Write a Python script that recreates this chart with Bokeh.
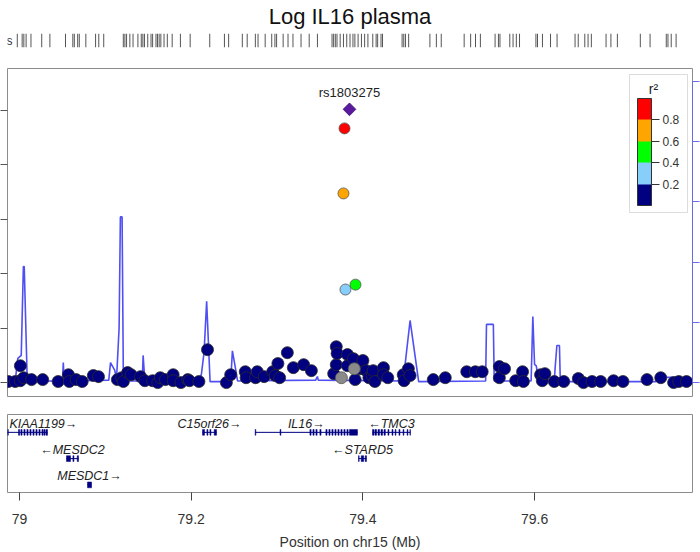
from bokeh.plotting import figure
from bokeh.layouts import column
from bokeh.models import (Range1d, LinearAxis, FixedTicker, ColumnDataSource, ColorBar,
                          LinearColorMapper, NumeralTickFormatter, Label, BoxAnnotation)
from bokeh.transform import linear_cmap
from bokeh.core.properties import value
from bokeh.embed import file_html
from bokeh.resources import INLINE

# ---------------- data ----------------
TITLE = "Log IL16 plasma"
X_LABEL = "Position on chr15 (Mb)"
X_TICKS = [79.0, 79.2, 79.4, 79.6]
LOGP_TICKS = [0, 2, 4, 6, 8, 10]
RECOMB_TICKS = [0, 20, 40, 60, 80, 100]
R2_TICKS = [0.2, 0.4, 0.6, 0.8]
R2_PALETTE = ["#000080", "#87CEFA", "#00FF00", "#FFA500", "#FF0000"]

# SNPs with r2 < 0.2 (navy)
low_pos = [78.987, 78.995, 79.001, 79.001, 79.005, 79.014, 79.027, 79.045, 79.057, 79.058,
           79.066, 79.073, 79.086, 79.092, 79.114, 79.119, 79.121, 79.126, 79.130, 79.141,
           79.146, 79.155, 79.161, 79.164, 79.170, 79.179, 79.179, 79.188, 79.196, 79.198,
           79.209, 79.219, 79.241, 79.246, 79.263, 79.264, 79.275, 79.277, 79.285, 79.295,
           79.298, 79.301, 79.303, 79.312, 79.319, 79.331, 79.340, 79.366, 79.369, 79.369,
           79.370, 79.382, 79.382, 79.389, 79.391, 79.397, 79.400, 79.404, 79.407, 79.411,
           79.412, 79.414, 79.424, 79.424, 79.429, 79.447, 79.448, 79.453, 79.455, 79.482,
           79.496, 79.521, 79.531, 79.539, 79.559, 79.559, 79.565, 79.578, 79.586, 79.587,
           79.607, 79.609, 79.612, 79.623, 79.634, 79.651, 79.657, 79.667, 79.677, 79.692,
           79.703, 79.731, 79.747, 79.762, 79.768, 79.777]
low_logp = [0.04, 0.04, 0.62, 0.07, 0.18, 0.11, 0.11, 0.04, 0.29, 0.04,
            0.11, 0.04, 0.26, 0.22, 0.11, 0.18, 0.04, 0.37, 0.29, 0.22,
            0.07, 0.07, 0.00, 0.18, 0.11, 0.29, 0.07, 0.00, 0.11, 0.07,
            0.04, 1.21, 0.00, 0.29, 0.40, 0.18, 0.18, 0.40, 0.22, 0.40,
            0.26, 0.70, 0.18, 1.10, 0.55, 0.66, 0.44, 0.33, 1.32, 0.66,
            1.07, 1.03, 0.62, 0.88, 0.11, 0.51, 0.81, 0.44, 0.18, 0.26,
            0.44, 0.04, 0.55, 0.29, 0.18, 0.29, 0.07, 0.51, 0.26, 0.11,
            0.18, 0.40, 0.40, 0.40, 0.59, 0.18, 0.51, 0.07, 0.40, 0.04,
            0.29, 0.07, 0.33, 0.04, 0.04, 0.15, 0.00, 0.04, 0.04, 0.07,
            0.04, 0.11, 0.18, 0.00, 0.04, 0.04]

# SNPs with no r2 (grey)
na_pos = [79.375, 79.390]
na_logp = [0.18, 0.51]

# SNPs in LD with the index SNP
ld_pos = [79.3797, 79.3914, 79.3774, 79.3786]
ld_logp = [3.42, 3.60, 6.95, 9.34]
ld_r2 = [0.30, 0.50, 0.70, 0.90]

# index SNP
ref_name = "rs1803275"
ref_pos = 79.3844
ref_logp = 10.04

# recombination rate (cM/Mb)
recomb_pos = [78.987, 78.995, 78.998, 79.002, 79.0045, 79.0055, 79.009, 79.050, 79.051, 79.052,
              79.104, 79.106, 79.111, 79.113, 79.116, 79.1175, 79.1195, 79.121, 79.143, 79.144,
              79.146, 79.210, 79.212, 79.215, 79.218, 79.222, 79.246, 79.248, 79.252, 79.254,
              79.345, 79.347, 79.348, 79.447, 79.450, 79.455, 79.465, 79.543, 79.544, 79.552,
              79.553, 79.596, 79.598, 79.600, 79.602, 79.605, 79.623, 79.624, 79.626, 79.629,
              79.630, 79.741, 79.747, 79.764, 79.770, 79.784]
recomb_rate = [0.5, 0.5, 8.0, 9.0, 38.5, 38.5, 0.5, 0.5, 6.6, 0.5,
               0.8, 6.6, 4.0, 1.0, 18.0, 55.0, 55.0, 0.5, 0.5, 9.0,
               0.5, 0.5, 3.0, 10.0, 27.0, 0.3, 0.3, 10.5, 4.0, 0.5,
               0.8, 2.0, 0.8, 0.5, 8.0, 20.6, 0.3, 0.5, 19.3, 19.3,
               0.5, 0.5, 21.9, 6.0, 5.5, 0.3, 0.5, 5.0, 12.3, 12.3,
               0.3, 0.3, 1.7, 1.7, 0.3, 0.3]

# all SNP positions (rug)
rug_pos = [78.9895, 78.9953, 78.9973, 79.0000, 79.0058, 79.0186, 79.0283, 79.0469, 79.0556, 79.0574,
           79.0614, 79.0633, 79.0711, 79.0827, 79.0865, 79.0924, 79.1157, 79.1176, 79.1196, 79.1235,
           79.1273, 79.1331, 79.1371, 79.1390, 79.1409, 79.1448, 79.1487, 79.1506, 79.1546, 79.1564,
           79.1584, 79.1604, 79.1642, 79.1681, 79.1739, 79.1837, 79.1953, 79.2186, 79.2361, 79.2411,
           79.2574, 79.2632, 79.2729, 79.2761, 79.2846, 79.2924, 79.2962, 79.2982, 79.3060, 79.3118,
           79.3177, 79.3273, 79.3370, 79.3468, 79.3642, 79.3661, 79.3681, 79.3701, 79.3739, 79.3778,
           79.3817, 79.3856, 79.3891, 79.3914, 79.3952, 79.3992, 79.4030, 79.4069, 79.4127, 79.4167,
           79.4185, 79.4225, 79.4243, 79.4476, 79.4496, 79.4516, 79.4554, 79.4807, 79.4884, 79.4942,
           79.5215, 79.5292, 79.5350, 79.5408, 79.5583, 79.5623, 79.5641, 79.5758, 79.5797, 79.5836,
           79.5874, 79.6069, 79.6088, 79.6147, 79.6243, 79.6321, 79.6535, 79.6573, 79.6651, 79.6690,
           79.6729, 79.6904, 79.6962, 79.7039, 79.7312, 79.7428, 79.7621, 79.7641, 79.7680, 79.7738]
rug_label = "s"

# genes
gene_name = ["KIAA1199", "MESDC2", "MESDC1", "C15orf26", "IL16", "TMC3", "STARD5"]
gene_start = [78.960, 79.0547, 79.0792, 79.2132, 79.2745, 79.4112, 79.3949]
gene_end = [79.0326, 79.0687, 79.0839, 79.2295, 79.3937, 79.4554, 79.4042]
gene_strand = [1, -1, 1, 1, 1, -1, -1]
gene_row = [1, 2, 3, 1, 1, 1, 2]

exon_gene = (["KIAA1199"] * 12 + ["MESDC2"] * 3 + ["MESDC1"] + ["C15orf26"] * 4 +
             ["IL16"] * 15 + ["TMC3"] * 12 + ["STARD5"] * 3)
exon_start = [78.9860, 78.9988, 79.0016, 79.0051, 79.0086, 79.0121, 79.0156, 79.0191, 79.0226, 79.0261,
              79.0284, 79.0308,
              79.0547, 79.0622, 79.0672,
              79.0792,
              79.2132, 79.2183, 79.2218, 79.2268,
              79.2745, 79.3035, 79.3383, 79.3418, 79.3453, 79.3499, 79.3569, 79.3604, 79.3639, 79.3674,
              79.3709, 79.3744, 79.3779, 79.3814, 79.3844,
              79.4112, 79.4141, 79.4176, 79.4211, 79.4246, 79.4292, 79.4339, 79.4376, 79.4420, 79.4468,
              79.4515, 79.4548,
              79.3949, 79.3981, 79.4027]
exon_end = [78.9870, 79.0002, 79.0030, 79.0065, 79.0100, 79.0135, 79.0170, 79.0205, 79.0240, 79.0275,
            79.0298, 79.0326,
            79.0594, 79.0634, 79.0687,
            79.0839,
            79.2155, 79.2195, 79.2230, 79.2295,
            79.2753, 79.3045, 79.3397, 79.3432, 79.3467, 79.3513, 79.3583, 79.3618, 79.3653, 79.3688,
            79.3723, 79.3758, 79.3793, 79.3828, 79.3937,
            79.4130, 79.4159, 79.4194, 79.4229, 79.4262, 79.4304, 79.4351, 79.4386, 79.4432, 79.4478,
            79.4525, 79.4554,
            79.3957, 79.4009, 79.4042]

# ---------------- layout / style ----------------
FONT = "Liberation Sans"
W = 700
BL, BR = 7, 8
X_MIN, X_MAX = 78.986, 79.784
Y_MIN, Y_MAX = -0.51, 11.54
shared_x = Range1d(X_MIN, X_MAX)
BOX = "#8c8c8c"

# main frame geometry (pixels) used to place the r2 key
MAIN_H, MAIN_TOP, MAIN_BOT = 340, 8, 4
FRAME_W = W - BL - BR
FRAME_H = MAIN_H - MAIN_TOP - MAIN_BOT
MB_PER_PX = (X_MAX - X_MIN) / FRAME_W


def kx(px):
    return X_MIN + px * MB_PER_PX


def ky(py_from_top):
    return Y_MAX - py_from_top / FRAME_H * (Y_MAX - Y_MIN)


# --- top: title + rug (frame spans the full width, same Mb scale as the panels) ---
top_x = Range1d(X_MIN - BL * MB_PER_PX, X_MAX + BR * MB_PER_PX)
top = figure(width=W, height=60, x_range=top_x, y_range=Range1d(0, 1),
             x_axis_location=None, y_axis_location=None, toolbar_location=None,
             output_backend="svg", min_border_left=0, min_border_right=0,
             min_border_top=0, min_border_bottom=13, outline_line_color=None)
top.title.text = TITLE
top.title.align = "center"
top.title.vertical_align = "top"
top.title.text_font = FONT
top.title.text_font_size = "22px"
top.title.text_font_style = "normal"
top.title.text_color = "#111111"
top.title.standoff = 6
top.grid.visible = False
rug_src = ColumnDataSource(dict(pos=rug_pos))
top.segment(x0="pos", x1="pos", y0=0, y1=1, source=rug_src,
            line_color="#555555", line_width=1)
top.text([X_MIN - 2 * MB_PER_PX], [0.5], text=[rug_label], text_align="right",
         text_baseline="middle", text_font=value(FONT), text_font_size="12px",
         text_color="#333333")

# --- main association panel ---
main = figure(width=W, height=MAIN_H, x_range=shared_x, y_range=Range1d(Y_MIN, Y_MAX),
              x_axis_location=None, toolbar_location=None, output_backend="svg",
              min_border_left=BL, min_border_right=BR, min_border_top=MAIN_TOP,
              min_border_bottom=MAIN_BOT, outline_line_color=BOX)
main.grid.visible = False
main.extra_y_ranges = {"recomb": Range1d(-4.65, 104.3)}

ly = main.yaxis[0]
ly.ticker = FixedTicker(ticks=LOGP_TICKS)
ly.major_label_overrides = {t: "" for t in LOGP_TICKS}
ly.major_label_standoff = 0
ly.major_tick_out = 7
ly.major_tick_in = 0
ly.minor_tick_out = 0
ly.minor_tick_in = 0
ly.axis_line_color = None
ly.major_tick_line_color = "#555555"

BLUE_AX = "#6a6ae6"
ry = LinearAxis(y_range_name="recomb", ticker=FixedTicker(ticks=RECOMB_TICKS), bounds=(0, 100))
ry.major_label_overrides = {t: "" for t in RECOMB_TICKS}
ry.major_label_standoff = 0
ry.major_tick_out = 7
ry.major_tick_in = 0
ry.minor_tick_out = 0
ry.minor_tick_in = 0
ry.axis_line_color = BLUE_AX
ry.major_tick_line_color = BLUE_AX
main.add_layout(ry, "right")

main.line(recomb_pos, recomb_rate, y_range_name="recomb", line_color="#3c3cf2",
          line_width=1.6, line_alpha=0.9)

main.scatter(low_pos, low_logp, marker="circle", size=12, fill_color=R2_PALETTE[0],
             line_color="#2a2a2a", line_width=0.8)
main.scatter(na_pos, na_logp, marker="circle", size=12, fill_color="#8a8a8a",
             line_color="#555555", line_width=0.8)
ld_src = ColumnDataSource(dict(pos=ld_pos, logp=ld_logp, r2=ld_r2))
main.scatter("pos", "logp", source=ld_src, marker="circle", size=11,
             fill_color=linear_cmap("r2", R2_PALETTE, 0, 1), line_color="#555555",
             line_width=0.8)
main.scatter([ref_pos], [ref_logp], marker="square", angle=0.785398, size=9,
             fill_color="#5b1a9e", line_color="#3a0f6e", line_width=0.8)
main.text([ref_pos], [ref_logp], text=[ref_name], y_offset=-9, text_align="center",
          text_baseline="bottom", text_font=value(FONT), text_font_size="13px",
          text_color="#222222")

# r2 key: outer box, title, colour bar
main.add_layout(BoxAnnotation(left=kx(622), right=kx(680), top=ky(6), bottom=ky(144),
                              fill_color="white", fill_alpha=1.0,
                              line_color=BOX, line_width=1))
main.add_layout(Label(x=kx(646), y=ky(20), text="r\u00b2", text_align="center",
                      text_baseline="middle", text_font=FONT, text_font_size="14px",
                      text_color="#222222"))
mapper = LinearColorMapper(palette=R2_PALETTE, low=0, high=1)
cb = ColorBar(color_mapper=mapper, ticker=FixedTicker(ticks=R2_TICKS),
              location=(630, FRAME_H - 137), orientation="vertical", width=14, height=107,
              major_label_text_font=FONT, major_label_text_font_size="12px",
              major_label_text_color="#333333", label_standoff=3,
              major_tick_in=0, major_tick_out=8, major_tick_line_color="#333333",
              minor_tick_line_color=None,
              bar_line_color="#333333", border_line_color=None,
              background_fill_color=None, padding=0, margin=0)
main.add_layout(cb)

# --- gene panel ---
gene = figure(width=W, height=152, x_range=shared_x, y_range=Range1d(3.29, 0.32),
              y_axis_location=None, toolbar_location=None, output_backend="svg",
              min_border_left=BL, min_border_right=BR, min_border_top=14, min_border_bottom=0,
              outline_line_color=BOX)
gene.grid.visible = False
ax = gene.xaxis[0]
ax.ticker = FixedTicker(ticks=X_TICKS)
ax.formatter = NumeralTickFormatter(format="0.[0]")
ax.axis_label = X_LABEL
ax.axis_label_text_font = FONT
ax.axis_label_text_font_size = "14px"
ax.axis_label_text_font_style = "normal"
ax.axis_label_text_color = "#333333"
ax.axis_label_standoff = 7
ax.major_label_text_font = FONT
ax.major_label_text_font_size = "14px"
ax.major_label_text_color = "#333333"
ax.major_label_standoff = 13
ax.major_tick_out = 8
ax.major_tick_in = 0
ax.minor_tick_out = 0
ax.minor_tick_in = 0
ax.axis_line_color = None
ax.major_tick_line_color = "#444444"

row_of = dict(zip(gene_name, gene_row))
GENE_COL = "#000080"
gene.segment(x0=gene_start, x1=gene_end, y0=gene_row, y1=gene_row,
             line_color=GENE_COL, line_width=1)
exon_row = [row_of[g] for g in exon_gene]
gene.quad(left=exon_start, right=exon_end,
          top=[r - 0.11 for r in exon_row], bottom=[r + 0.11 for r in exon_row],
          fill_color=GENE_COL, line_color=GENE_COL, line_width=0.5)

labels, label_x, label_y = [], [], []
for n, s, e, st, r in zip(gene_name, gene_start, gene_end, gene_strand, gene_row):
    lab = (n + "\u2192") if st > 0 else ("\u2190" + n)
    half = 0.0042 * len(lab)
    mid = (max(s, X_MIN) + min(e, X_MAX)) / 2
    mid = max(mid, X_MIN + half + 0.004)
    labels.append(lab)
    label_x.append(mid)
    label_y.append(r - 0.33)
gene.text(label_x, label_y, text=labels, text_align="center", text_baseline="middle",
          text_font=value(FONT), text_font_size="12.5px", text_font_style="italic",
          text_color="#222222")

layout = column(top, main, gene)
open("out.html", "w").write(file_html(layout, INLINE))
